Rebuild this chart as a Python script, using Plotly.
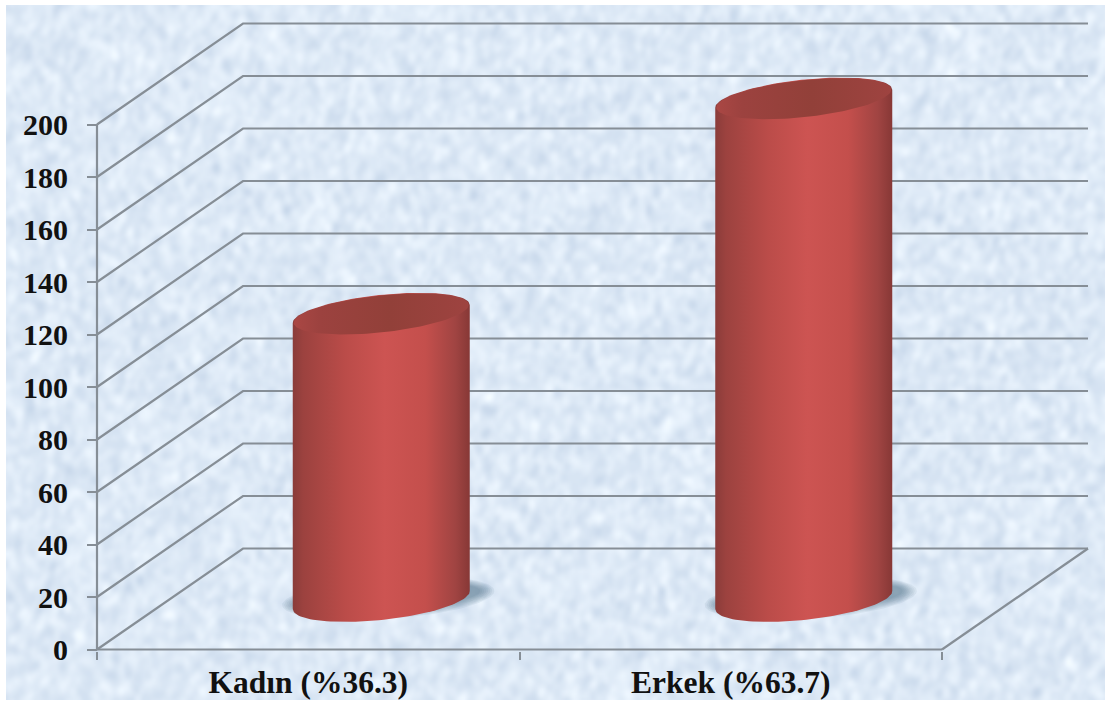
import base64
import struct
import zlib

import numpy as np
import plotly.graph_objects as go

categories = ["Kadın (%36.3)", "Erkek (%63.7)"]
values = [109, 191]
tick_values = [0, 20, 40, 60, 80, 100, 120, 140, 160, 180, 200]

W, H = 1110, 704
X0_PX, X1_PX = 97, 942      # front plane, left and right, in page pixels
Y0_PX, Y200_PX = 649.5, 124.5   # value 0 and value 200, in page pixels
PX_X = (X1_PX - X0_PX) / 2  # pixels per category
PX_Y = (Y0_PX - Y200_PX) / 200
DEPTH_X = 146 / PX_X
DEPTH_Y = 101 / PX_Y
GRID = "#868e96"
FONT = "Liberation Serif"


def ux(px):
    return px / PX_X


def uy(px):
    return px / PX_Y


def paper_texture(w=550, h=348):
    """Mottled pale-blue paper, decoration only: overlaid sine waves, no data."""
    yy, xx = np.mgrid[0:h, 0:w].astype(float)
    n = np.zeros((h, w))
    for k in range(1, 60):
        ang = k * 2.399963
        freq = 0.08 + 0.75 * ((k * 0.618034) % 1) ** 2
        warp = 4.0 * np.sin(xx * 0.043 * (1 + k % 5) + k) + 4.0 * np.cos(yy * 0.051 * (1 + k % 3) + k * 2)
        n += np.sin((xx * np.cos(ang) + yy * np.sin(ang)) * freq + warp + k * 1.3) / (1 + freq * 3)
    n = (n - n.mean()) / n.std()
    base = np.array([222.0, 234.0, 247.0])
    amp = np.array([5.5, 4.5, 3.0])
    img = np.clip(base[None, None, :] + n[:, :, None] * amp[None, None, :], 0, 255).astype(np.uint8)
    raw = b"".join(b"\x00" + img[r].tobytes() for r in range(h))

    def chunk(tag, data):
        c = struct.pack(">I", len(data)) + tag + data
        return c + struct.pack(">I", zlib.crc32(tag + data) & 0xffffffff)

    png = (b"\x89PNG\r\n\x1a\n" + chunk(b"IHDR", struct.pack(">IIBBBBB", w, h, 8, 2, 0, 0, 0))
           + chunk(b"IDAT", zlib.compress(raw, 9)) + chunk(b"IEND", b""))
    return "data:image/png;base64," + base64.b64encode(png).decode()


x_range = [-0.5 - ux(X0_PX), -0.5 + ux(W - X0_PX)]
y_range = [-uy(H - Y0_PX), uy(Y0_PX)]

fig = go.Figure()


def line(xs, ys, width=2.2, color=GRID):
    fig.add_trace(go.Scatter(x=xs, y=ys, mode="lines", hoverinfo="skip",
                             line=dict(color=color, width=width), showlegend=False))


# Walls: one bent line for each tick, then the floor edges and the axis.
for v in tick_values:
    line([-0.5, -0.5 + DEPTH_X, 1.5 + DEPTH_X], [v, v + DEPTH_Y, v + DEPTH_Y])
line([1.5, 1.5 + DEPTH_X], [0, DEPTH_Y])
line([-0.5, 1.5], [0, 0])
line([-0.5, -0.5], [0, tick_values[-1]])


def ellipse(cx, cy, t, a=88.5, b=20.0, s=9.0):
    return (cx + ux(a) * np.cos(t), cy + uy(b * np.sin(t) + s * np.cos(t)))


T_LOW = np.linspace(np.pi, 2 * np.pi, 60)
T_UP = np.linspace(0, np.pi, 60)
T_ALL = np.linspace(0, 2 * np.pi, 120)

BODY = [[0, "#8a3c3a"], [0.06, "#9c423f"], [0.3, "#bb4c49"], [0.52, "#cd5452"],
        [0.75, "#c44f4c"], [0.92, "#a04442"], [1, "#873836"]]
TOP = [[0, "#aa4744"], [0.15, "#9c423f"], [0.55, "#924039"], [1, "#9e4340"]]

for i, v in enumerate(values):
    cx = i + DEPTH_X / 2
    base = DEPTH_Y / 2 - uy(1)
    # soft floor shadow, built from stacked translucent ellipses
    for grow in range(16, 0, -2):
        sx, sy = ellipse(cx + ux(7), base + uy(2), T_ALL, a=90 + grow, b=12 + grow * 0.55, s=7)
        fig.add_trace(go.Scatter(x=sx, y=sy, mode="lines", fill="toself", hoverinfo="skip",
                                 line=dict(width=0), fillcolor="rgba(50,90,110,0.08)",
                                 showlegend=False))
    bx, by = ellipse(cx, base, T_LOW)
    tx, ty = ellipse(cx, base + v, T_UP, b=19)
    fig.add_trace(go.Scatter(x=np.r_[bx, tx], y=np.r_[by, ty], mode="lines", fill="toself",
                             hoverinfo="skip", showlegend=False, line=dict(width=0),
                             fillgradient=dict(type="horizontal", colorscale=BODY)))
    ex, ey = ellipse(cx, base + v, T_ALL, a=87.5, b=18.5)
    fig.add_trace(go.Scatter(x=ex, y=ey, mode="lines", fill="toself",
                             hoverinfo="skip", showlegend=False, line=dict(width=0),
                             fillgradient=dict(type="horizontal", colorscale=TOP)))

fig.update_layout(
    width=W, height=H, autosize=False,
    margin=dict(l=0, r=0, t=0, b=0),
    paper_bgcolor="white", plot_bgcolor="rgba(0,0,0,0)",
    showlegend=False,
    images=[dict(source=paper_texture(), xref="paper", yref="paper", layer="below",
                 x=6 / W, y=1 - 5 / H, sizex=1099 / W, sizey=695 / H,
                 xanchor="left", yanchor="top", sizing="stretch")],
    xaxis=dict(range=x_range, domain=[0, 1], showgrid=False, zeroline=False, showline=False,
               tickmode="array", tickvals=[0, 1], ticktext=categories, ticks="",
               anchor="free", position=(H - Y0_PX - 1) / H, ticklabelstandoff=10,
               minor=dict(tickmode="array", tickvals=[-0.5, 0.5, 1.5], ticks="outside",
                          ticklen=8, tickwidth=2, tickcolor=GRID, showgrid=False),
               tickfont=dict(family=FONT, size=31.5, color="#111111", weight="bold")),
    yaxis=dict(range=y_range, domain=[0, 1], showgrid=False, zeroline=False, showline=False,
               tickmode="array", tickvals=tick_values, ticks="outside", ticklen=10,
               tickwidth=2, tickcolor=GRID, anchor="free", position=X0_PX / W,
               ticklabelstandoff=13,
               tickfont=dict(family=FONT, size=30, color="#111111", weight="bold")),
)
fig.write_html("out.html", config={"displayModeBar": False},
               post_script="document.body.style.margin='0';")
